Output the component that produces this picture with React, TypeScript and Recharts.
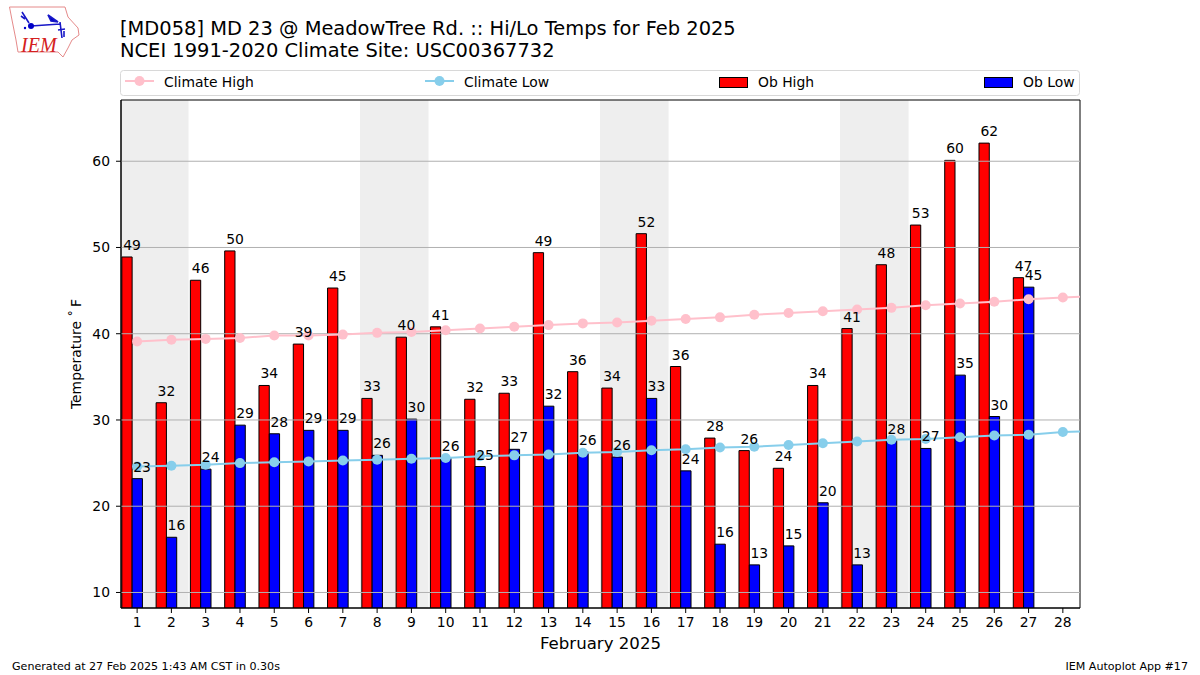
import React from 'react';
import { ComposedChart, Bar, Line, XAxis, YAxis, ReferenceArea, ReferenceLine } from 'recharts';

const days = [1,2,3,4,5,6,7,8,9,10,11,12,13,14,15,16,17,18,19,20,21,22,23,24,25,26,27,28,29];
const obHigh: (number|null)[] = [48.9,32,46.2,49.6,34,38.8,45.3,32.5,39.6,40.8,32.4,33.1,49.4,35.6,33.7,51.6,36.2,27.9,26.45,24.4,34,40.6,48,52.6,60.1,62.1,46.5,null,null];
const obLow: (number|null)[] = [23.2,16.4,24.3,29.4,28.4,28.8,28.8,25.9,30.1,25.6,24.6,26.6,31.6,26.3,25.7,32.5,24.1,15.6,13.2,15.4,20.4,13.2,27.6,26.7,35.2,30.4,45.4,null,null];
const climateHigh = [39.1,39.3,39.4,39.5,39.8,39.8,39.9,40.1,40.2,40.4,40.6,40.8,41.0,41.2,41.3,41.5,41.7,41.9,42.2,42.4,42.6,42.8,43.0,43.3,43.5,43.7,44.0,44.2,44.4];
const climateLow = [24.6,24.7,24.8,25.0,25.1,25.2,25.3,25.4,25.5,25.6,25.8,25.9,26.0,26.2,26.3,26.5,26.6,26.8,26.9,27.1,27.3,27.5,27.7,27.8,28.0,28.2,28.3,28.6,28.7];
const weekendSpans = [[0.53,2.5],[7.5,9.5],[14.5,16.5],[21.5,23.5]];
const yTicks = [10,20,30,40,50,60];
const xTicks = days.slice(0,28);

const data = days.map((day,i)=>({day,obHigh:obHigh[i],obLow:obLow[i],climateHigh:climateHigh[i],climateLow:climateLow[i]}));

const FONT = '"DejaVu Sans", sans-serif';
const X_MIN = 0.53, X_MAX = 28.5;
const Y_MIN = 8.2, Y_MAX = 67.1;
const BAR_SHIFT = 0.15;

const makeLabel = (dx:number)=>(p:any)=>{
  if(p.value==null) return null;
  return <text x={p.x+dx} y={p.y-7} textAnchor="middle" fontSize={13.9} fontFamily={FONT} fill="#000">{Math.round(p.value)}</text>;
};

const legendItems = [
  {name:'Climate High',color:'#ffc0cb',kind:'line',x:125},
  {name:'Climate Low',color:'#87ceeb',kind:'line',x:425},
  {name:'Ob High',color:'#ff0000',kind:'bar',x:719},
  {name:'Ob Low',color:'#0000ff',kind:'bar',x:984},
];

const LegendBox = ()=>(
  <svg width={1200} height={100} style={{position:'absolute',left:0,top:0}}>
    <rect x={120.5} y={70.5} width={959} height={25} rx={3} fill="#fff" stroke="#d8d8d8" strokeWidth={1}/>
    {legendItems.map(it=>(
      <g key={it.name}>
        {it.kind==='line'
          ? <g><line x1={it.x} x2={it.x+29} y1={81} y2={81} stroke={it.color} strokeWidth={2}/><circle cx={it.x+14.5} cy={81} r={5} fill={it.color}/></g>
          : <rect x={it.x+0.5} y={77.5} width={28} height={10} fill={it.color} stroke="#000" strokeWidth={1}/>}
        <text x={it.x+39} y={86.5} fontSize={13.9} fontFamily={FONT} fill="#000">{it.name}</text>
      </g>
    ))}
  </svg>
);

const Logo = ()=>(
  <svg width={90} height={65} style={{position:'absolute',left:0,top:0}}>
    <path d="M9.5 7 L65 7 L68 17 L78 28 L79 35 L72 40 L68 48 L63 57 L58 52 L18 52 L16 40 L12 20 Z" fill="#fff" stroke="#e58a8a" strokeWidth={1}/>
    <path d="M31 26 L60 24 M60 22 L62 38 M48 15 L58 22 L51 21 Z M22 12 L29 23 M21 16 L25 19 M58 30 L65 29 M64 31 L64 37" fill="#0000c8" stroke="#1818c8" strokeWidth={1.6}/>
    <circle cx={31} cy={26} r={3} fill="#0000c8"/>
    <circle cx={25} cy={28} r={1.2} fill="#0000c8"/>
    <text x={21} y={52} fontSize={20} fontStyle="italic" fontFamily='"Liberation Serif", serif' fill="#d42020">IEM</text>
  </svg>
);

export default function App(){
  return (
    <div style={{position:'absolute',left:0,top:0,width:1200,height:675,background:'#fff',fontFamily:FONT,overflow:'hidden'}}>
      <Logo/>
      <div style={{position:'absolute',left:120,top:18,fontSize:19.45,lineHeight:'22px',color:'#000',whiteSpace:'nowrap'}}>
        <div>[MD058] MD 23 @ MeadowTree Rd. :: Hi/Lo Temps for Feb 2025</div>
        <div>NCEI 1991-2020 Climate Site: USC00367732</div>
      </div>
      <LegendBox/>
      <ComposedChart width={1200} height={675} data={data} margin={{top:100,right:120,bottom:17,left:71}} barGap={0} style={{position:'absolute',left:0,top:0}}>
        <XAxis dataKey="day" type="number" domain={[X_MIN,X_MAX]} allowDataOverflow ticks={xTicks} interval={0} height={50} stroke="#000" tickSize={5}
          tick={{fill:'#000',fontSize:13.9,fontFamily:FONT}} tickMargin={4}
          label={{value:'February 2025',position:'insideBottom',offset:9,fontSize:16.6,fontFamily:FONT,fill:'#000'}}/>
        <XAxis xAxisId="bars" dataKey="day" type="number" domain={[X_MIN+BAR_SHIFT,X_MAX+BAR_SHIFT]} allowDataOverflow hide/>
        <YAxis type="number" domain={[Y_MIN,Y_MAX]} allowDataOverflow ticks={yTicks} interval={0} width={50} stroke="#000" tickSize={5}
          tick={{fill:'#000',fontSize:13.9,fontFamily:FONT}} tickMargin={6}
          label={{value:'Temperature\u00a0˚\u2009F',angle:-90,position:'insideLeft',offset:5,style:{textAnchor:'middle'},fontSize:13.9,fontFamily:FONT,fill:'#000'}}/>
        {weekendSpans.map(([a,b])=>(
          <ReferenceArea key={a} x1={a} x2={b} y1={Y_MIN} y2={Y_MAX} fill="#eeeeee" fillOpacity={1} stroke="none"/>
        ))}
        <Bar xAxisId="bars" dataKey="obHigh" name="Ob High" fill="#ff0000" stroke="#000" strokeWidth={1} barSize={10.3} isAnimationActive={false}/>
        <Bar xAxisId="bars" dataKey="obLow" name="Ob Low" fill="#0000ff" stroke="#000" strokeWidth={1} barSize={10.3} isAnimationActive={false}/>
        {yTicks.map(t=>(
          <ReferenceLine key={t} y={t} stroke="#b0b0b0" strokeWidth={1}/>
        ))}
        <Line dataKey="climateHigh" name="Climate High" stroke="#ffc0cb" strokeWidth={2} dot={{r:5,fill:'#ffc0cb',stroke:'#ffc0cb',strokeWidth:0}} activeDot={false} isAnimationActive={false}/>
        <Line dataKey="climateLow" name="Climate Low" stroke="#87ceeb" strokeWidth={2} dot={{r:5,fill:'#87ceeb',stroke:'#87ceeb',strokeWidth:0}} activeDot={false} isAnimationActive={false}/>
        <Line dataKey="obHigh" legendType="none" stroke="none" dot={false} activeDot={false} isAnimationActive={false} label={makeLabel(-5)}/>
        <Line dataKey="obLow" legendType="none" stroke="none" dot={false} activeDot={false} isAnimationActive={false} label={makeLabel(5)}/>
        <ReferenceArea x1={X_MIN} x2={X_MAX} y1={Y_MIN} y2={Y_MAX} fill="none" stroke="#000" strokeWidth={1}/>
      </ComposedChart>
      <div style={{position:'absolute',left:12,top:660,fontSize:11.1,color:'#000'}}>Generated at 27 Feb 2025 1:43 AM CST in 0.30s</div>
      <div style={{position:'absolute',right:12,top:660,fontSize:11.1,color:'#000'}}>IEM Autoplot App #17</div>
    </div>
  );
}
